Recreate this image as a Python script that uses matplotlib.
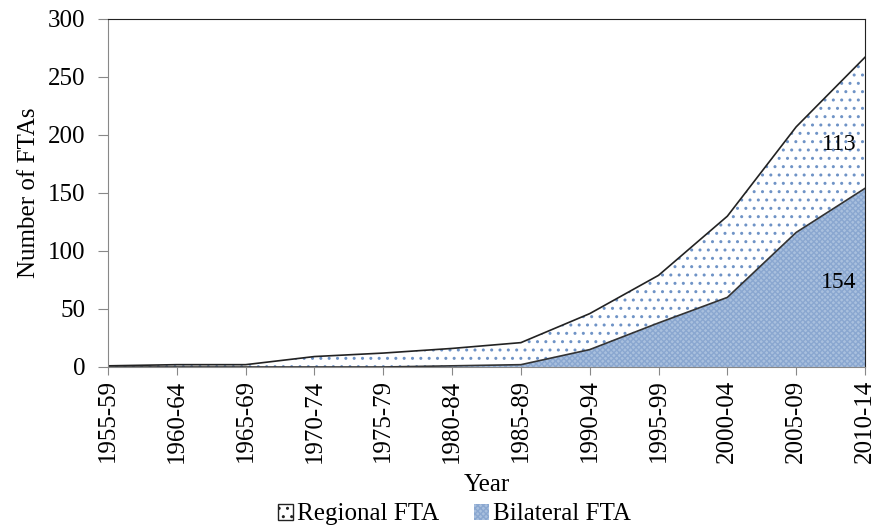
import numpy as np
import matplotlib.pyplot as plt
from matplotlib.patches import Patch

PERIODS = ["1955-59", "1960-64", "1965-69", "1970-74", "1975-79", "1980-84",
           "1985-89", "1990-94", "1995-99", "2000-04", "2005-09", "2010-14"]
BILATERAL = [0, 0, 0, 0, 0, 1, 2, 15, 38, 60, 116, 154]
TOTAL = [1, 2, 2, 9, 12, 16, 21, 46, 79, 130, 207, 267]
REGIONAL = [t - b for t, b in zip(TOTAL, BILATERAL)]

plt.rcParams["font.family"] = ["Liberation Serif", "DejaVu Serif"]
plt.rcParams["hatch.linewidth"] = 1.0

BLUE_FILL = "#a9c0de"
BLUE_HATCH = "#6f93c6"
FS = 18

fig = plt.figure(figsize=(8.77, 5.26), dpi=100)
ax = fig.add_axes([0.1231, 0.3023, 0.8632, 0.6616])

x = np.arange(len(PERIODS))
bil = np.array(BILATERAL)
reg = np.array(REGIONAL)

ax.fill_between(x, bil, bil + reg, facecolor="white", edgecolor=BLUE_HATCH,
                hatch="..", linewidth=0)
ax.fill_between(x, 0, bil, facecolor=BLUE_FILL, edgecolor="#8aa7d0",
                hatch="xxxxxx", linewidth=0)
ax.plot(x, bil + reg, color="#222222", lw=1.2)
ax.plot(x, bil, color="#333333", lw=1.2)

ax.text(10.62, 192, "113", fontsize=17, ha="center", va="center")
ax.text(10.62, 73, "154", fontsize=17, ha="center", va="center")

ax.set_xlim(0, len(PERIODS) - 1)
ax.set_ylim(0, 300)
ax.set_yticks(range(0, 301, 50))
ax.set_xticks(x)
ax.set_xticklabels(PERIODS, rotation=90)
ax.tick_params(labelsize=FS, direction="out", length=6, color="#888888", pad=3)
ax.tick_params(axis="y", length=7, pad=9)
ax.set_ylabel("Number of FTAs", fontsize=FS, labelpad=6)
ax.set_xlabel("Year", fontsize=FS, labelpad=8)

for side in ["left", "bottom"]:
    ax.spines[side].set_color("#888888")
for side in ["top", "right"]:
    ax.spines[side].set_color("#222222")

handles = [
    Patch(facecolor="white", edgecolor="#222222", hatch="..", linewidth=1.0,
          label="Regional FTA"),
    Patch(facecolor=BLUE_FILL, edgecolor="#8aa7d0", hatch="xxxxxx", linewidth=0,
          label="Bilateral FTA"),
]
fig.legend(handles=handles, loc="center", bbox_to_anchor=(0.518, 0.022),
           ncol=2, frameon=False, fontsize=FS, handlelength=0.6,
           handleheight=0.6, handletextpad=0.15, columnspacing=1.4,
           borderpad=0)

fig.savefig("out.png", dpi=100)
